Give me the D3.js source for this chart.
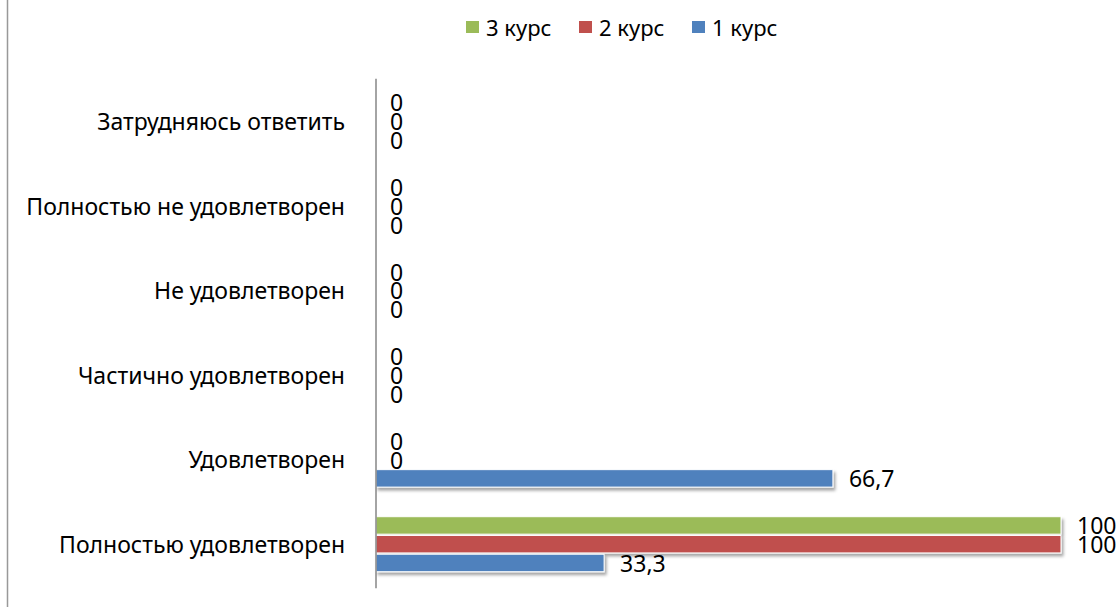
<!DOCTYPE html>
<html><head><meta charset="utf-8">
<script src="https://cdn.jsdelivr.net/npm/d3@7"></script>
<style>body{margin:0;background:#fff}svg{display:block}</style>
</head><body>
<svg id="c" width="1120" height="607"></svg>
<script>
const categories = ["Затрудняюсь ответить","Полностью не удовлетворен","Не удовлетворен","Частично удовлетворен","Удовлетворен","Полностью удовлетворен"];
const seriesNames = ["3 курс","2 курс","1 курс"];
const seriesColors = ["#9BBB59","#C0504D","#4F81BD"];
const course3 = [0,0,0,0,0,100];
const course2 = [0,0,0,0,0,100];
const course1 = [0,0,0,0,66.7,33.3];
const seriesValues = [course3, course2, course1];

const FONT = "'Noto Sans', sans-serif";
const svg = d3.select("#c");

const defs = svg.append("defs");
const f = defs.append("filter").attr("id","sh").attr("x","-5%").attr("y","-30%").attr("width","110%").attr("height","180%");
f.append("feDropShadow").attr("dx",2).attr("dy",3).attr("stdDeviation",1.8).attr("flood-color","#000").attr("flood-opacity",0.35);

// left frame line
svg.append("line").attr("x1",7.5).attr("x2",7.5).attr("y1",0).attr("y2",607).attr("stroke","#999").attr("stroke-width",1.5);

const x = d3.scaleLinear().domain([0,100]).range([376,1061]);
const y0 = d3.scaleBand().domain(categories).range([78.7,586.3]);
const y1 = d3.scaleBand().domain(seriesNames).range([15,70]).paddingInner(0.07);

const fmt = v => String(v).replace(".",",");

seriesNames.forEach((s,si)=>{
  const g = svg.append("g");
  const data = categories.map((c,i)=>({c, v: seriesValues[si][i]}));
  g.selectAll("rect").data(data.filter(d=>d.v>0)).join("rect")
    .attr("x", x(0)).attr("y", d=>y0(d.c)+y1(s))
    .attr("width", d=>x(d.v)-x(0)).attr("height", y1.bandwidth())
    .attr("fill", seriesColors[si]).attr("stroke","#fff").attr("stroke-width",1)
    .attr("filter","url(#sh)");
  g.selectAll("text").data(data).join("text")
    .attr("x", d=>x(d.v)+ (d.v>0?16:14)).attr("y", d=>y0(d.c)+y1(s)+y1.bandwidth()/2)
    .attr("dominant-baseline","central")
    .attr("font-family",FONT).attr("font-size",23).attr("fill","#000")
    .text(d=>fmt(d.v));
});

// axis
svg.append("line").attr("x1",x(0)).attr("x2",x(0)).attr("y1",y0.range()[0]).attr("y2",y0.range()[1]+2)
  .attr("stroke","#868686").attr("stroke-width",1.5);

// category labels
svg.append("g").selectAll("text").data(categories).join("text")
  .attr("x",345).attr("y",d=>y0(d)+y0.bandwidth()/2)
  .attr("text-anchor","end").attr("dominant-baseline","central")
  .attr("font-family",FONT).attr("font-size",23).attr("fill","#000")
  .text(d=>d);

// legend
const legX = [466,579,692];
const lg = svg.append("g");
seriesNames.forEach((s,i)=>{
  lg.append("rect").attr("x",legX[i]).attr("y",21).attr("width",13).attr("height",12).attr("fill",seriesColors[i]);
  lg.append("text").attr("x",legX[i]+20).attr("y",27).attr("dominant-baseline","central")
    .attr("font-family",FONT).attr("font-size",22).attr("fill","#000").text(s);
});
</script>
</body></html>
